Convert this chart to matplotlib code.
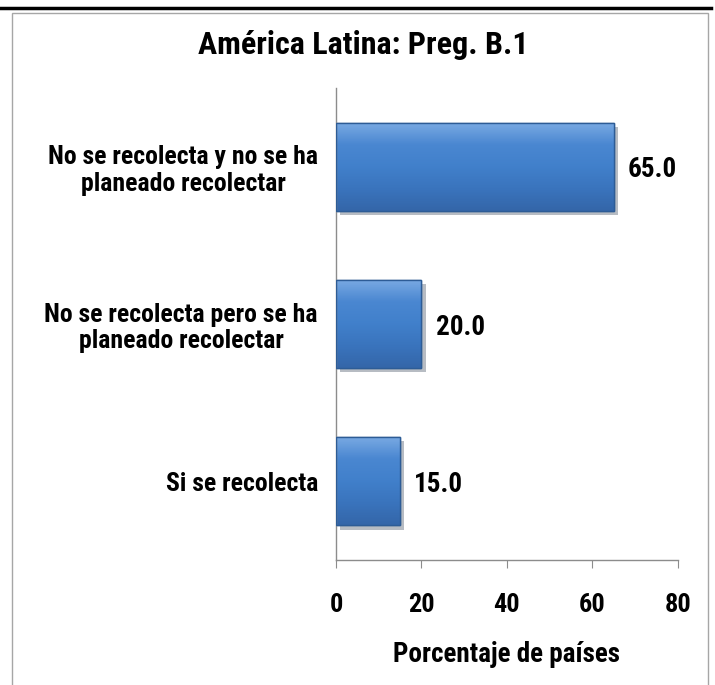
import numpy as np
import matplotlib
matplotlib.use("Agg")
import matplotlib.pyplot as plt
import matplotlib.patheffects as pe
from matplotlib.patches import Rectangle
from matplotlib.lines import Line2D

# Datos
categorias = ["Si se recolecta",
              "No se recolecta pero se ha\nplaneado recolectar",
              "No se recolecta y no se ha\nplaneado recolectar"]
valores = [15.0, 20.0, 65.0]
ticks_x = [0, 20, 40, 60, 80]

plt.rcParams['font.family'] = ['Roboto Condensed', 'DejaVu Sans']
plt.rcParams['font.weight'] = 'bold'

fig = plt.figure(figsize=(7.15, 6.85), dpi=100)
ax = fig.add_axes([0.470, 0.1825, 0.478, 0.689])

y = np.arange(len(categorias))
barras = ax.barh(y, valores, height=0.56, color='#3b77c2', edgecolor='#2a578f',
                 linewidth=1.0, zorder=2,
                 path_effects=[pe.SimplePatchShadow(offset=(3, -3), alpha=0.3),
                               pe.Normal()])

# degradado vertical dentro de cada barra (claro arriba, oscuro abajo)
grad = np.linspace(0, 1, 100).reshape(-1, 1)
cmap = matplotlib.colors.LinearSegmentedColormap.from_list(
    'azul', ['#7aaae3', '#4a87d1', '#4180cb', '#3a74bd', '#3466a9'])
for b in barras:
    x0, y0 = b.get_x(), b.get_y()
    w, h = b.get_width(), b.get_height()
    im = ax.imshow(grad, extent=[x0, x0 + w, y0, y0 + h], aspect='auto',
                   cmap=cmap, origin='upper', zorder=2.5)
    im.set_clip_path(b)
    ax.add_patch(Rectangle((x0, y0), w, h, fill=False, edgecolor='#2d5c96',
                           linewidth=1.0, zorder=3))

for yi, v in zip(y, valores):
    ax.text(v + 3.3, yi, f"{v:.1f}", va='center_baseline', ha='left',
            fontsize=19.5, fontweight='bold')

ax.set_xlim(0, 80)
ax.set_ylim(-0.5, 2.5)
ax.set_xticks(ticks_x)
ax.set_xticklabels([str(t) for t in ticks_x], fontsize=19, fontweight='bold')
ax.set_yticks(y)
ax.set_yticklabels(categorias, fontsize=18.5, fontweight='bold',
                   multialignment='center', linespacing=1.15)
ax.tick_params(axis='y', length=0, pad=13)
ax.tick_params(axis='x', length=6, direction='out', color='#8c8c8c', pad=18)
ax.grid(False)
ax.set_facecolor('none')

for s in ['top', 'right']:
    ax.spines[s].set_visible(False)
for s in ['left', 'bottom']:
    ax.spines[s].set_color('#8c8c8c')
    ax.spines[s].set_linewidth(1.0)

ax.set_xlabel("Porcentaje de países", fontsize=19.5, fontweight='bold', labelpad=17)

fig.text(0.508, 0.934, "América Latina: Preg. B.1", ha='center', va='center',
         fontsize=23, fontweight='bold')

# marco del gráfico y línea superior del documento
fig.add_artist(Rectangle((12 / 715, -0.01), (708 - 12) / 715, 1 - 13 / 685 + 0.01,
                         transform=fig.transFigure, fill=False,
                         edgecolor='#a6a6a6', linewidth=1.0))
fig.add_artist(Line2D([0, 0.995], [1 - 7.5 / 685] * 2, transform=fig.transFigure,
                      color='black', linewidth=2.5))

fig.savefig("out.png", dpi=100)
